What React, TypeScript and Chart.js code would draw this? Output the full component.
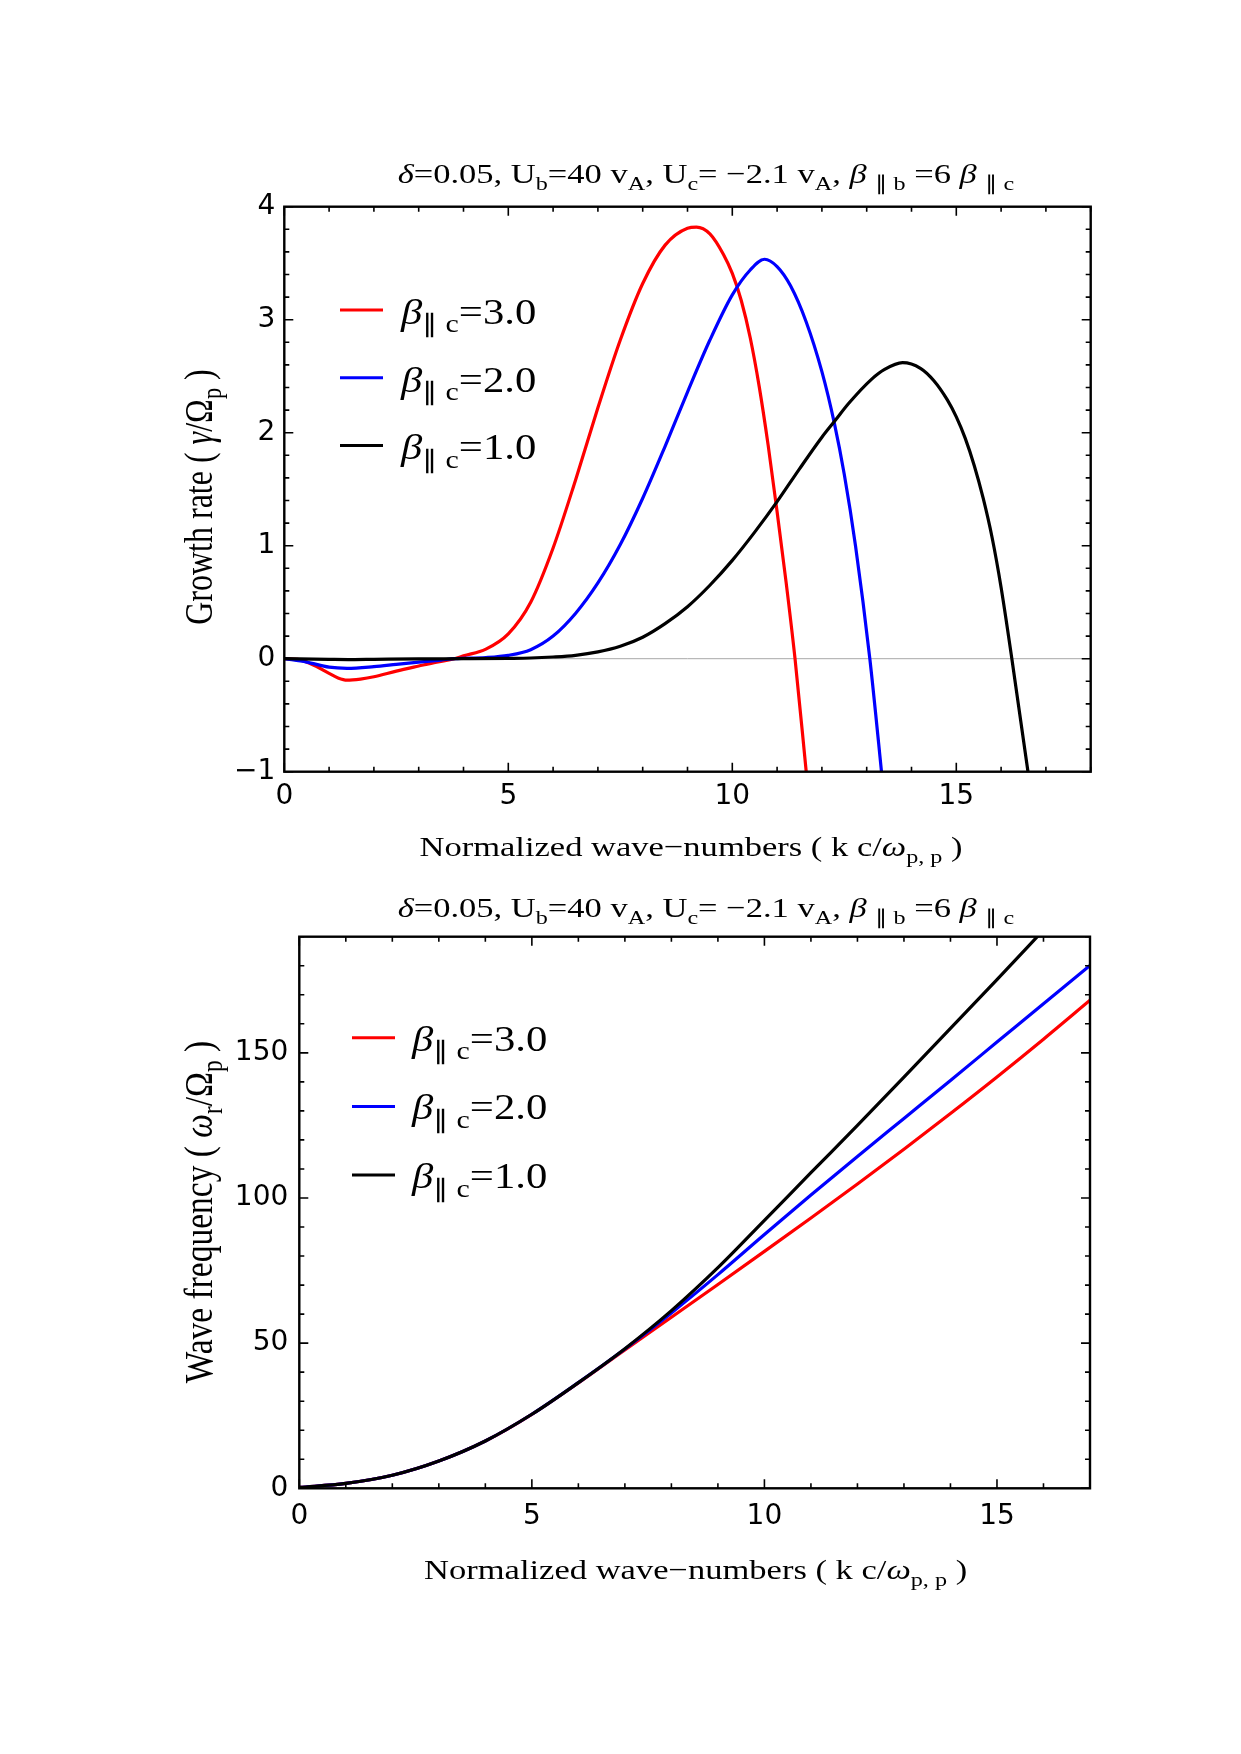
import { useEffect, useRef } from 'react';
import { Chart, registerables } from 'chart.js';

Chart.register(...registerables);

const SERIF = "'Liberation Serif', 'Times New Roman', serif";
const SANS = "'DejaVu Sans', 'Liberation Sans', sans-serif";
const TEXT_STRETCH = 1.22;

// ---- Growth rate  γ/Ωp  versus  k c/ωp,p ----
const K_GROWTH_B3 = [0, 0.35, 0.7, 1.0, 1.2, 1.4, 1.7, 2.0, 2.5, 3.0, 3.4, 3.8, 4.0, 4.5, 5.0, 5.5, 6.0, 6.5, 7.0, 7.5, 8.0, 8.5, 9.0, 9.2, 9.5, 9.8, 10.0, 10.2, 10.4, 10.6, 10.8, 11.0, 11.2, 11.4, 11.65, 11.8];
const GAMMA_B3 = [0, -0.01, -0.065, -0.13, -0.17, -0.19, -0.18, -0.16, -0.11, -0.065, -0.03, 0.0, 0.025, 0.085, 0.22, 0.5, 0.98, 1.58, 2.22, 2.82, 3.32, 3.66, 3.81, 3.82, 3.76, 3.58, 3.41, 3.17, 2.84, 2.41, 1.89, 1.3, 0.68, 0.0, -1.0, -1.6];

const K_GROWTH_B2 = [0, 0.5, 1.0, 1.4, 2.0, 2.5, 3.0, 3.5, 3.8, 4.5, 5.0, 5.5, 6.0, 6.5, 7.0, 7.5, 8.0, 8.5, 9.0, 9.5, 10.0, 10.4, 10.72, 11.0, 11.3, 11.65, 12.0, 12.28, 12.5, 12.75, 13.07, 13.33, 13.45];
const GAMMA_B2 = [0, -0.03, -0.075, -0.085, -0.07, -0.05, -0.03, -0.012, 0, 0.01, 0.03, 0.08, 0.2, 0.4, 0.67, 1.01, 1.42, 1.88, 2.36, 2.82, 3.22, 3.44, 3.535, 3.47, 3.3, 2.98, 2.54, 2.08, 1.63, 1.0, 0.0, -1.0, -1.48];

const K_GROWTH_B1 = [0, 1, 1.5, 2, 3, 4, 5, 5.5, 6.0, 6.5, 7.0, 7.5, 8.0, 8.5, 9.0, 9.5, 10.0, 10.5, 11.0, 11.5, 12.0, 12.3, 12.6, 13.1, 13.4, 13.8, 14.2, 14.5, 14.8, 15.0, 15.2, 15.4, 15.6, 15.8, 16.0, 16.24, 16.6, 16.75];
const GAMMA_B1 = [0, -0.006, -0.008, -0.006, -0.002, 0, 0.003, 0.006, 0.015, 0.03, 0.06, 0.11, 0.19, 0.31, 0.46, 0.65, 0.87, 1.12, 1.39, 1.68, 1.96, 2.11, 2.26, 2.47, 2.56, 2.62, 2.57, 2.46, 2.29, 2.14, 1.95, 1.71, 1.42, 1.07, 0.63, 0, -1.0, -1.45];

// ---- Real frequency  ωr/Ωp  versus  k c/ωp,p ----
const K_FREQ = [0, 1, 2, 3, 4, 5, 6, 7, 8, 9, 10, 11, 12, 13, 14, 15, 16, 17];
const OMEGA_B3 = [0.3, 1.7, 4.5, 9.4, 16.3, 25.5, 36.3, 47.7, 58.9, 70.2, 81.6, 93.1, 104.8, 116.8, 129.1, 141.7, 154.7, 168.1];
const OMEGA_B2 = [0.3, 1.7, 4.5, 9.4, 16.3, 25.5, 36.4, 48.0, 60.4, 73.6, 87.4, 101.0, 114.3, 127.4, 140.5, 153.7, 166.9, 180.1];
const OMEGA_B1 = [0.3, 1.7, 4.5, 9.4, 16.3, 25.5, 36.4, 48.1, 61.2, 76.0, 92.3, 108.7, 125.0, 141.6, 158.4, 175.2, 192.3];

const BETA_LABELS = ['*β*_{∥ c}=3.0', '*β*_{∥ c}=2.0', '*β*_{∥ c}=1.0'];
const BETA_COLORS = ['#ff0000', '#0000ff', '#000000'];

const TICKS_K_GROWTH = [0, 5, 10, 15];
const TICKS_GAMMA = [-1, 0, 1, 2, 3, 4];
const TICKS_K_FREQ = [0, 5, 10, 15];
const TICKS_OMEGA = [0, 50, 100, 150];

const PLOT_TITLE = '*δ*=0.05, U_{b}=40 v_{A}, U_{c}= −2.1 v_{A}, *β* _{∥ b} =6 *β* _{∥ c}';
const X_TITLE = 'Normalized wave−numbers ( k c/*ω*_{p, p} )';
const Y_TITLE_GROWTH = 'Growth rate ( *γ*/Ω_{p} )';
const Y_TITLE_FREQ = 'Wave frequency ( *ω*_{r}/Ω_{p} )';

type Seg = { text: string; italic: boolean; sub: boolean };

// tiny markup: *...* toggles italic, _{...} is a subscript
function parseRich(src: string): Seg[] {
  const segs: Seg[] = [];
  let italic = false;
  let buf = '';
  let i = 0;
  const flush = () => {
    if (buf) segs.push({ text: buf, italic, sub: false });
    buf = '';
  };
  while (i < src.length) {
    const c = src[i];
    if (c === '*') {
      flush();
      italic = !italic;
      i++;
      continue;
    }
    if (c === '_' && src[i + 1] === '{') {
      flush();
      const end = src.indexOf('}', i + 2);
      segs.push({ text: src.slice(i + 2, end), italic: false, sub: true });
      i = end + 1;
      continue;
    }
    buf += c;
    i++;
  }
  flush();
  return segs;
}

function drawRich(
  ctx: CanvasRenderingContext2D,
  src: string,
  x: number,
  y: number,
  size: number,
  align: 'left' | 'center',
  sx: number,
  sy: number
) {
  const segs = parseRich(src);
  const fontFor = (s: Seg) => `${s.italic ? 'italic ' : ''}${s.sub ? size * 0.7 : size}px ${SERIF}`;
  let w = 0;
  for (const s of segs) {
    ctx.font = fontFor(s);
    w += ctx.measureText(s.text).width;
  }
  ctx.save();
  ctx.translate(x, y);
  ctx.scale(sx, sy);
  ctx.textAlign = 'left';
  ctx.textBaseline = 'alphabetic';
  ctx.fillStyle = '#000';
  let cx = align === 'center' ? -w / 2 : 0;
  for (const s of segs) {
    ctx.font = fontFor(s);
    ctx.fillText(s.text, cx, s.sub ? size * 0.24 : 0);
    cx += ctx.measureText(s.text).width;
  }
  ctx.restore();
}

const decorPlugin = {
  id: 'decor',
  beforeDatasetsDraw(chart: any, _args: any, o: any) {
    if (!o.zeroLine) return;
    const { ctx, chartArea: a } = chart;
    const y0 = chart.scales.y.getPixelForValue(0);
    ctx.save();
    ctx.strokeStyle = '#a8a8a8';
    ctx.lineWidth = 1;
    ctx.beginPath();
    ctx.moveTo(a.left, y0);
    ctx.lineTo(a.right, y0);
    ctx.stroke();
    ctx.restore();
  },
  afterDraw(chart: any, _args: any, o: any) {
    const { ctx, chartArea: a } = chart;
    const xs = chart.scales.x;
    const ys = chart.scales.y;
    ctx.save();
    ctx.strokeStyle = '#000';
    ctx.lineWidth = 1.6;
    const run = (scale: any, step: number, major: number, fn: (p: number, len: number) => void) => {
      const n = Math.round((scale.max - scale.min) / step);
      for (let i = 0; i <= n; i++) {
        const v = scale.min + i * step;
        const r = v / major;
        const isMajor = Math.abs(r - Math.round(r)) < 1e-6;
        fn(scale.getPixelForValue(v), isMajor ? 9 : 5);
      }
    };
    ctx.beginPath();
    run(xs, o.xMinor, o.xMajor, (p, len) => {
      ctx.moveTo(p, a.bottom);
      ctx.lineTo(p, a.bottom - len);
      ctx.moveTo(p, a.top);
      ctx.lineTo(p, a.top + len);
    });
    run(ys, o.yMinor, o.yMajor, (p, len) => {
      ctx.moveTo(a.left, p);
      ctx.lineTo(a.left + len, p);
      ctx.moveTo(a.right, p);
      ctx.lineTo(a.right - len, p);
    });
    ctx.stroke();
    ctx.lineWidth = 2.4;
    ctx.strokeRect(a.left, a.top, a.right - a.left, a.bottom - a.top);

    drawRich(ctx, o.title.text, o.title.x, o.title.y, o.title.size, 'center', TEXT_STRETCH, 1);
    drawRich(ctx, o.xTitle.text, o.xTitle.x, o.xTitle.y, o.xTitle.size, 'center', TEXT_STRETCH, 1);
    ctx.save();
    ctx.translate(o.yTitle.x, o.yTitle.y);
    ctx.rotate(-Math.PI / 2);
    drawRich(ctx, o.yTitle.text, 0, 0, o.yTitle.size, 'center', 1, TEXT_STRETCH);
    ctx.restore();

    const lg = o.legend;
    chart.data.datasets.forEach((ds: any, i: number) => {
      const y = lg.y0 + i * lg.dy;
      ctx.strokeStyle = ds.borderColor;
      ctx.lineWidth = 3;
      ctx.beginPath();
      ctx.moveTo(lg.x0, y);
      ctx.lineTo(lg.x1, y);
      ctx.stroke();
      drawRich(ctx, ds.label, lg.tx, y + lg.off, lg.size, 'left', TEXT_STRETCH, 1);
    });
    ctx.restore();
  },
};

const fmtTick = (v: any) => String(v).replace('-', '\u2212');

function makeConfig(spec: any) {
  const n = spec.series.length;
  const datasets = spec.series.map((s: any, i: number) => ({
    label: BETA_LABELS[i],
    data: s.y.map((v: number, j: number) => ({ x: s.x[j], y: v })),
    borderColor: BETA_COLORS[i],
    backgroundColor: BETA_COLORS[i],
    borderWidth: 3.2,
    pointRadius: 0,
    fill: false,
    cubicInterpolationMode: 'monotone',
    capBezierPoints: false,
    clip: 0,
    // later series are painted over earlier ones
    order: n - 1 - i,
  }));
  return {
    type: 'line',
    data: { datasets },
    plugins: [decorPlugin],
    options: {
      responsive: false,
      animation: false,
      events: [],
      layout: {
        padding: { left: 0, top: spec.area.top, right: spec.width - spec.area.right, bottom: 0 },
      },
      elements: { line: { capBezierPoints: false } },
      plugins: {
        legend: { display: false },
        title: { display: false },
        tooltip: { enabled: false },
        decor: spec.decor,
      },
      scales: {
        x: {
          type: 'linear',
          min: spec.xMin,
          max: spec.xMax,
          grid: { display: false, drawTicks: false },
          border: { display: false },
          ticks: { font: { family: SANS, size: 28 }, color: '#000', padding: spec.xPad, callback: fmtTick },
          afterBuildTicks: (s: any) => {
            s.ticks = spec.xTicks.map((v: number) => ({ value: v }));
          },
          afterFit: (s: any) => {
            s.height = spec.height - spec.area.bottom;
          },
        },
        y: {
          type: 'linear',
          min: spec.yMin,
          max: spec.yMax,
          grid: { display: false, drawTicks: false },
          border: { display: false },
          ticks: { font: { family: SANS, size: 28 }, color: '#000', padding: spec.yPad, callback: fmtTick },
          afterBuildTicks: (s: any) => {
            s.ticks = spec.yTicks.map((v: number) => ({ value: v }));
          },
          afterFit: (s: any) => {
            s.width = spec.area.left;
          },
        },
      },
    },
  };
}

const W = 1241;
const H = 877;

const growthSpec = {
  width: W,
  height: H,
  area: { left: 284.3, top: 206.7, right: 1090.7, bottom: 771.7 },
  xMin: 0,
  xMax: 18,
  yMin: -1,
  yMax: 4,
  xTicks: TICKS_K_GROWTH,
  yTicks: TICKS_GAMMA,
  xPad: 8,
  yPad: 9,
  series: [
    { x: K_GROWTH_B3, y: GAMMA_B3 },
    { x: K_GROWTH_B2, y: GAMMA_B2 },
    { x: K_GROWTH_B1, y: GAMMA_B1 },
  ],
  decor: {
    zeroLine: true,
    xMinor: 1,
    xMajor: 5,
    yMinor: 0.2,
    yMajor: 1,
    title: { text: PLOT_TITLE, x: 706, y: 183, size: 28.3 },
    xTitle: { text: X_TITLE, x: 691, y: 856, size: 28.3 },
    yTitle: { text: Y_TITLE_GROWTH, x: 211.7, y: 497, size: 32 },
    legend: { x0: 340, x1: 383, tx: 401, y0: 310, dy: 67.7, off: 14, size: 35 },
  },
};

const freqSpec = {
  width: W,
  height: H,
  area: { left: 299.3, top: 59.7, right: 1090, bottom: 611.3 },
  xMin: 0,
  xMax: 17,
  yMin: 0,
  yMax: 190,
  xTicks: TICKS_K_FREQ,
  yTicks: TICKS_OMEGA,
  xPad: 12,
  yPad: 11,
  series: [
    { x: K_FREQ, y: OMEGA_B3 },
    { x: K_FREQ, y: OMEGA_B2 },
    { x: K_FREQ.slice(0, OMEGA_B1.length), y: OMEGA_B1 },
  ],
  decor: {
    zeroLine: false,
    xMinor: 1,
    xMajor: 5,
    yMinor: 10,
    yMajor: 50,
    title: { text: PLOT_TITLE, x: 706, y: 40.3, size: 28.3 },
    xTitle: { text: X_TITLE, x: 695.6, y: 702.3, size: 28.3 },
    yTitle: { text: Y_TITLE_FREQ, x: 212, y: 335, size: 33.5 },
    legend: { x0: 352, x1: 395, tx: 412, y0: 160.7, dy: 68.7, off: 13, size: 35 },
  },
};

export default function App() {
  const topRef = useRef<HTMLCanvasElement | null>(null);
  const bottomRef = useRef<HTMLCanvasElement | null>(null);

  useEffect(() => {
    const charts: Chart[] = [];
    if (topRef.current) charts.push(new Chart(topRef.current, makeConfig(growthSpec) as any));
    if (bottomRef.current) charts.push(new Chart(bottomRef.current, makeConfig(freqSpec) as any));
    return () => charts.forEach((c) => c.destroy());
  }, []);

  return (
    <div style={{ position: 'absolute', left: 0, top: 0, width: W, height: 2 * H, background: '#fff' }}>
      <canvas ref={topRef} width={W} height={H} style={{ position: 'absolute', left: 0, top: 0, width: W, height: H }} />
      <canvas ref={bottomRef} width={W} height={H} style={{ position: 'absolute', left: 0, top: H, width: W, height: H }} />
    </div>
  );
}
